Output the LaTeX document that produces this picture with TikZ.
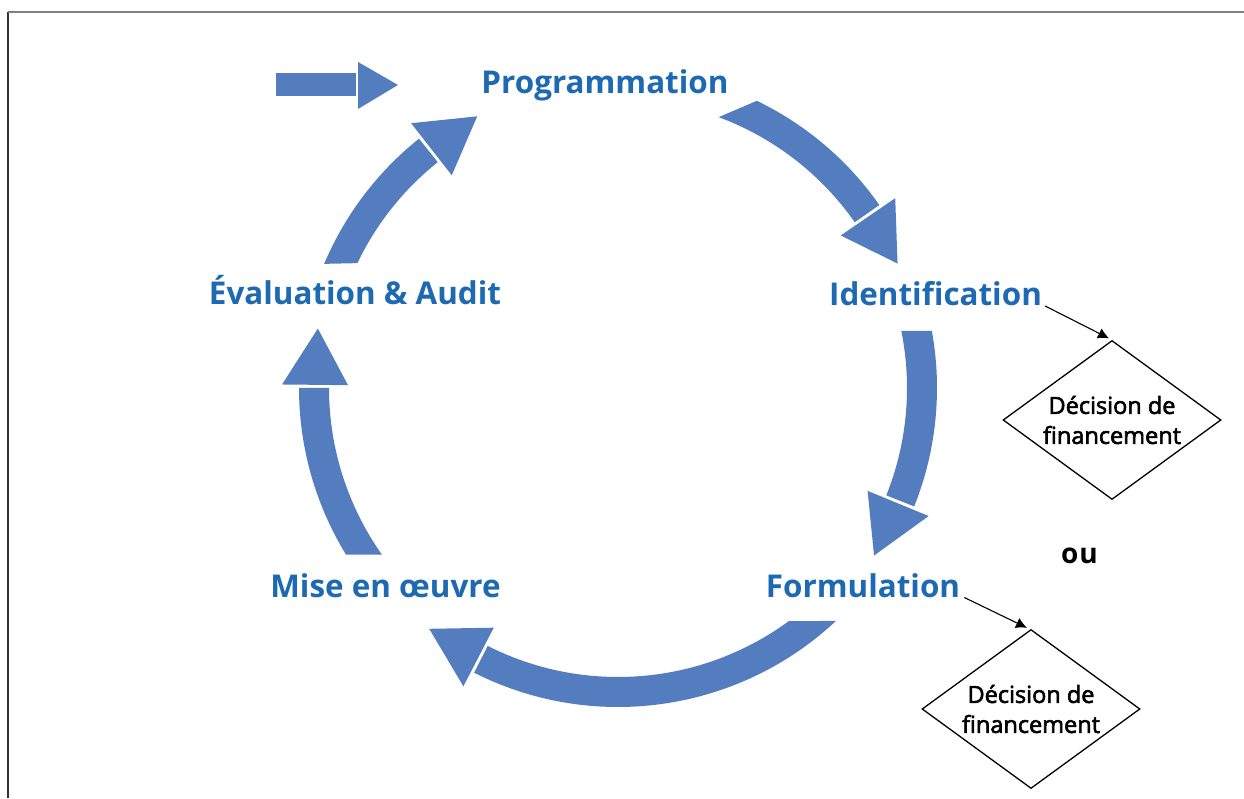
\documentclass[tikz,border=0pt]{standalone}
\usepackage{fontspec}
\setmainfont{Open Sans}
\newfontfamily\decfont[FakeBold=2.5]{Open Sans}
\usetikzlibrary{shapes.geometric,arrows.meta}
\definecolor{arrblue}{RGB}{83,125,190}
\definecolor{txtblue}{RGB}{30,106,178}
\newcommand\cycarrow[4]{%
  \fill[arrblue] (#1:319) arc[start angle=#1, end angle=#3, radius=319] -- (#3:289) arc[start angle=#3, end angle=#2, radius=289] -- cycle;
  \fill[arrblue] ({#3-0.6}:270) -- ({#3-0.6}:336) -- (#4:306) -- cycle;}
\begin{document}
\begin{tikzpicture}[x=1pt,y=1pt,
  lab/.style={font=\fontsize{31.4}{36}\selectfont\bfseries, text=txtblue, inner sep=0pt, anchor=base},
  dec/.style={draw=black, line width=1.3pt, shape=diamond, aspect=1.37, minimum width=218pt, minimum height=159pt, inner sep=0pt, align=center, font=\decfont\fontsize{23.5}{30}\selectfont},
  conn/.style={line width=1.1pt, -{Latex[length=11pt,width=11pt]}}]
\useasboundingbox (0,0) rectangle (1244,798);
\fill[white] (0,0) rectangle (1244,798);
\draw[line width=1.5pt, black!80] (8,0) -- (8,786);
\draw[line width=1.5pt, black!50] (8,786) -- (1244,786);
% start arrow
\fill[arrblue] (276,702) rectangle (356,725);
\fill[arrblue] (358,689) -- (358,736) -- (398,713) -- cycle;
% cycle arrows
\begin{scope}[shift={(618,410)}]
  \cycarrow{64.2}{69.6}{35}{24}
  \cycarrow{10.3}{11.4}{-21.8}{-33.2}
  \cycarrow{-46.9}{-53.8}{-116.8}{-128.1}
  \cycarrow{211.5}{215.2}{180}{168.8}
  \cycarrow{157.1}{154.4}{128.6}{117.4}
\end{scope}
% labels
\node[lab] (prog) at (605,704) {Programmation};
\node[lab] (idf) at (935.5,492) {Identification};
\node[lab] (eval) at (355,493) {Évaluation \& Audit};
\node[lab] (form) at (863,200.5) {Formulation};
\node[lab] (mise) at (385.5,200.5) {Mise en œuvre};
% decisions
\node[dec] (d1) at (1112,378) {Décision de\\financement};
\node[dec] (d2) at (1031,89) {Décision de\\financement};
\node[font=\fontsize{28}{34}\selectfont\bfseries, anchor=base, inner sep=0pt] (ou) at (1079.5,234) {o\kern1pt u};
\draw[conn] ([xshift=3pt]idf.base east) -- ([xshift=-3pt,yshift=1.5pt]d1.north);
\draw[conn] ([xshift=4pt]form.base east) -- ([xshift=-4pt,yshift=1pt]d2.north);
\end{tikzpicture}
\end{document}
